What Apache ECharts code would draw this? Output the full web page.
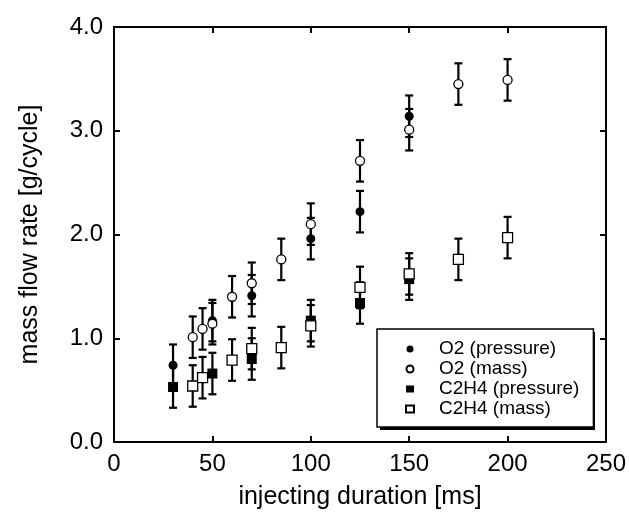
<!DOCTYPE html>
<html>
<head>
<meta charset="utf-8">
<script src="https://cdn.jsdelivr.net/npm/echarts@6/dist/echarts.min.js"></script>
<style>html,body{margin:0;padding:0;background:#fff;}#c{width:629px;height:523px;}</style>
</head>
<body>
<div id="c"></div>
<script>
// ---- data ----
const xTicks = [0, 50, 100, 150, 200, 250];
const yTicks = [0, 1, 2, 3, 4];
const seriesNames = ['O2 (pressure)', 'O2 (mass)', 'C2H4 (pressure)', 'C2H4 (mass)'];

const o2PressureX = [30, 50, 70, 100, 125, 150];
const o2PressureY = [0.74, 1.17, 1.41, 1.96, 2.22, 3.14];
const o2PressureErr = [0.2, 0.2, 0.2, 0.2, 0.2, 0.2];

const o2MassX = [40, 45, 50, 60, 70, 85, 100, 125, 150, 175, 200];
const o2MassY = [1.01, 1.09, 1.14, 1.40, 1.53, 1.76, 2.10, 2.71, 3.01, 3.45, 3.49];
const o2MassErr = [0.2, 0.2, 0.2, 0.2, 0.2, 0.2, 0.2, 0.2, 0.2, 0.2, 0.2];

const c2h4PressureX = [30, 50, 70, 100, 125, 150];
const c2h4PressureY = [0.53, 0.66, 0.80, 1.17, 1.34, 1.57];
const c2h4PressureErr = [0.2, 0.2, 0.2, 0.2, 0.2, 0.2];

const c2h4MassX = [40, 45, 60, 70, 85, 100, 125, 150, 175, 200];
const c2h4MassY = [0.54, 0.62, 0.79, 0.90, 0.91, 1.12, 1.49, 1.62, 1.76, 1.97];
const c2h4MassErr = [0.2, 0.2, 0.2, 0.2, 0.2, 0.2, 0.2, 0.2, 0.2, 0.2];

// ---- build ----
const FONT = '"Liberation Sans", Arial, Helvetica, sans-serif';
function pts(xs, ys) { return xs.map((x, i) => [x, ys[i]]); }
function errPts(xs, ys, es) { return xs.map((x, i) => [x, ys[i], es[i]]); }

function errRender(params, api) {
  const x = api.value(0), y = api.value(1), e = api.value(2);
  const t = api.coord([x, y + e]);
  const b = api.coord([x, y - e]);
  const hw = 4;
  const st = { stroke: '#000', lineWidth: 2.2 };
  return {
    type: 'group',
    children: [
      { type: 'line', shape: { x1: t[0], y1: t[1], x2: b[0], y2: b[1] }, style: st },
      { type: 'line', shape: { x1: t[0] - hw, y1: t[1], x2: t[0] + hw, y2: t[1] }, style: st },
      { type: 'line', shape: { x1: b[0] - hw, y1: b[1], x2: b[0] + hw, y2: b[1] }, style: st }
    ]
  };
}

function errSeries(name, xs, ys, es) {
  return {
    type: 'custom', name: name, renderItem: errRender, z: 2,
    data: errPts(xs, ys, es), encode: { x: 0, y: 1 }, silent: true
  };
}

function scatter(name, xs, ys, symbol, size, filled) {
  return {
    type: 'scatter', name: name, symbol: symbol, symbolSize: size, z: 3,
    data: pts(xs, ys),
    itemStyle: filled
      ? { color: '#000', borderColor: '#000', borderWidth: 0, opacity: 1 }
      : { color: '#fff', borderColor: '#000', borderWidth: 1.3, opacity: 1 },
    emphasis: { disabled: true }
  };
}

function axisLine() { return { show: true, onZero: false, lineStyle: { color: '#000', width: 2 } }; }
function tickInside() { return { show: true, inside: true, length: 6, lineStyle: { color: '#000', width: 2 } }; }
function labelStyle(extra) { return Object.assign({ color: '#000', fontFamily: FONT, fontSize: 24 }, extra); }

const option = {
  backgroundColor: '#fff',
  animation: false,
  grid: { left: 114, top: 27, right: 23, bottom: 81, containLabel: false },
  graphic: [
    { type: 'rect', left: 380, top: 332, z: 5, silent: true,
      shape: { width: 215, height: 98 }, style: { fill: '#000' } }
  ],
  xAxis: [
    {
      type: 'value', min: xTicks[0], max: xTicks[xTicks.length - 1], interval: 50,
      position: 'bottom',
      axisLine: axisLine(), axisTick: tickInside(), splitLine: { show: false },
      axisLabel: labelStyle({ margin: 10 }),
      name: 'injecting duration [ms]', nameLocation: 'middle', nameGap: 43,
      nameTextStyle: { color: '#000', fontFamily: FONT, fontSize: 25 }
    },
    {
      type: 'value', min: xTicks[0], max: xTicks[xTicks.length - 1], interval: 50,
      position: 'top',
      axisLine: axisLine(), axisTick: tickInside(), splitLine: { show: false },
      axisLabel: { show: false }
    }
  ],
  yAxis: [
    {
      type: 'value', min: yTicks[0], max: yTicks[yTicks.length - 1], interval: 1,
      position: 'left',
      axisLine: axisLine(), axisTick: tickInside(), splitLine: { show: false },
      axisLabel: labelStyle({ margin: 11, formatter: v => v.toFixed(1) }),
      name: 'mass flow rate [g/cycle]', nameLocation: 'middle', nameGap: 71,
      nameTextStyle: { color: '#000', fontFamily: FONT, fontSize: 25 }
    },
    {
      type: 'value', min: yTicks[0], max: yTicks[yTicks.length - 1], interval: 1,
      position: 'right',
      axisLine: axisLine(), axisTick: tickInside(), splitLine: { show: false },
      axisLabel: { show: false }
    }
  ],
  legend: {
    data: seriesNames,
    orient: 'vertical',
    left: 377, top: 329, z: 6,
    padding: [10, 14, 8, 28],
    itemWidth: 8, itemHeight: 7, itemGap: 0,
    backgroundColor: '#fff',
    borderColor: '#000', borderWidth: 1.5, borderRadius: 0,
    selectedMode: false,
    formatter: name => '{t|' + name + '}',
    textStyle: {
      color: '#000', fontFamily: FONT, fontSize: 19, lineHeight: 20,
      rich: { t: { fontFamily: FONT, fontSize: 19, lineHeight: 20, padding: [0, 0, 0, 20] } }
    }
  },
  series: [
    errSeries('e1', o2PressureX, o2PressureY, o2PressureErr),
    errSeries('e2', o2MassX, o2MassY, o2MassErr),
    errSeries('e3', c2h4PressureX, c2h4PressureY, c2h4PressureErr),
    errSeries('e4', c2h4MassX, c2h4MassY, c2h4MassErr),
    scatter(seriesNames[0], o2PressureX, o2PressureY, 'circle', 9, true),
    scatter(seriesNames[1], o2MassX, o2MassY, 'circle', 9, false),
    scatter(seriesNames[2], c2h4PressureX, c2h4PressureY, 'rect', 10, true),
    scatter(seriesNames[3], c2h4MassX, c2h4MassY, 'rect', 10, false)
  ]
};

const chart = echarts.init(document.getElementById('c'), null, { renderer: 'canvas' });
chart.setOption(option);
</script>
</body>
</html>
